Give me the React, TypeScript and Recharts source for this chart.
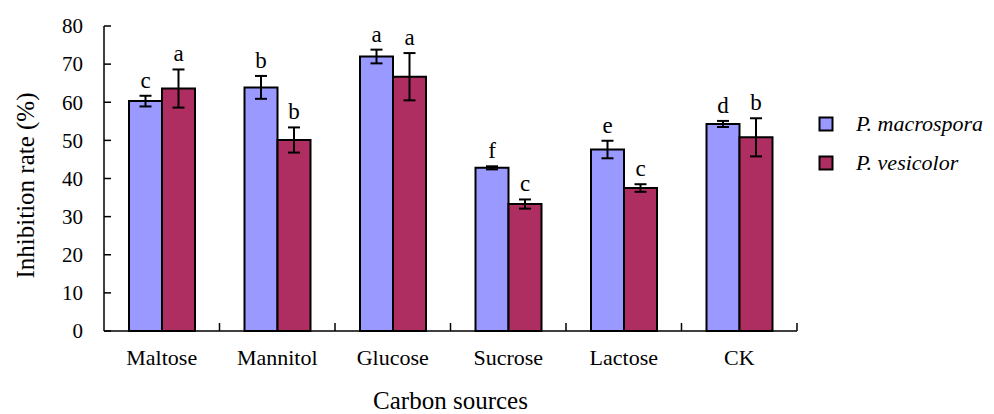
import { BarChart, Bar, XAxis, YAxis, ErrorBar, LabelList } from 'recharts';

// Inhibition rate by carbon source, two Penicillium-like strains
const categories = ['Maltose', 'Mannitol', 'Glucose', 'Sucrose', 'Lactose', 'CK'];
const macrospora = [60.3, 63.9, 72.0, 42.8, 47.6, 54.3];
const macrosporaErr = [1.4, 3.0, 1.8, 0.4, 2.3, 0.8];
const macrosporaSig = ['c', 'b', 'a', 'f', 'e', 'd'];
const vesicolor = [63.6, 50.1, 66.7, 33.3, 37.5, 50.8];
const vesicolorErr = [5.0, 3.3, 6.2, 1.2, 1.0, 5.0];
const vesicolorSig = ['a', 'b', 'a', 'c', 'c', 'b'];
const yTicks = [0, 10, 20, 30, 40, 50, 60, 70, 80];

const data = categories.map((name, i) => ({
  name,
  macrospora: macrospora[i],
  macrosporaErr: macrosporaErr[i],
  vesicolor: vesicolor[i],
  vesicolorErr: vesicolorErr[i],
}));

const FONT = 'Liberation Serif, DejaVu Serif, serif';
const BLUE = '#9999ff';
const RED = '#ae2e62';

// letter sits above the error bar cap
const sigLabel = (letters: string[], errs: number[]) => (props: any) => {
  const { x, y, width, height, value, index } = props;
  const pxPerUnit = value ? height / value : 0;
  const top = y - errs[index] * pxPerUnit;
  return (
    <text x={x + width / 2} y={top - 8} textAnchor="middle" fontFamily={FONT} fontSize={23} fill="#000">
      {letters[index]}
    </text>
  );
};

const YTick = (props: any) => {
  const { x, y, payload } = props;
  return (
    <g>
      <line x1={x} x2={x + 7} y1={y} y2={y} stroke="#000" strokeWidth={1.5} />
      <text x={x - 21} y={y} dy="0.35em" textAnchor="end" fontFamily={FONT} fontSize={21} fill="#000">
        {payload.value}
      </text>
    </g>
  );
};

const XTick = (props: any) => {
  const { x, y, payload } = props;
  const half = payload.offset || 57.75;
  return (
    <g>
      <line x1={x + half} x2={x + half} y1={y} y2={y - 8} stroke="#000" strokeWidth={1.5} />
      <text x={x} y={y + 34} textAnchor="middle" fontFamily={FONT} fontSize={22} fill="#000">
        {payload.value}
      </text>
    </g>
  );
};

const legendItems = [
  { label: 'P. macrospora', color: BLUE },
  { label: 'P. vesicolor', color: RED },
];

const LegendBox = () => (
  <div
    style={{
      position: 'absolute',
      left: 818,
      top: 104,
      fontFamily: FONT,
      fontSize: 22,
      fontStyle: 'italic',
      color: '#000',
    }}
  >
    {legendItems.map((item) => (
      <div key={item.label} style={{ display: 'flex', alignItems: 'center', height: 39 }}>
        <svg width={16} height={16} style={{ marginRight: 22 }}>
          <rect x={1.5} y={1.5} width={13} height={13} fill={item.color} stroke="#000" strokeWidth={2} />
        </svg>
        <span>{item.label}</span>
      </div>
    ))}
  </div>
);

const YTitle = (props: any) => {
  const { viewBox } = props;
  const cx = 34;
  const cy = viewBox.y + viewBox.height / 2 + 7;
  return (
    <text
      x={cx}
      y={cy}
      transform={`rotate(-90, ${cx}, ${cy})`}
      textAnchor="middle"
      fontFamily={FONT}
      fontSize={25}
      fill="#000"
    >
      Inhibition rate (%)
    </text>
  );
};

export default function App() {
  return (
    <div style={{ position: 'fixed', left: 0, top: 0, width: 994, height: 414, background: '#fff' }}>
      <BarChart
        width={994}
        height={414}
        data={data}
        margin={{ top: 26, right: 197, left: 0, bottom: 0 }}
        barGap={0}
      >
        <XAxis
          dataKey="name"
          height={83}
          axisLine={{ stroke: '#000', strokeWidth: 1.5 }}
          tickLine={false}
          tickSize={0}
          tickMargin={0}
          tick={<XTick />}
          interval={0}
          label={{
            value: 'Carbon sources',
            position: 'insideBottom',
            offset: 5,
            fontFamily: FONT,
            fontSize: 25,
            fill: '#000',
          }}
        />
        <YAxis
          width={104}
          domain={[0, 80]}
          ticks={yTicks}
          interval={0}
          axisLine={{ stroke: '#000', strokeWidth: 1.5 }}
          tickLine={false}
          tickSize={0}
          tickMargin={0}
          tick={<YTick />}
          label={<YTitle />}
        />
        <Bar dataKey="macrospora" fill={BLUE} stroke="#000" strokeWidth={2} barSize={33} isAnimationActive={false}>
          <ErrorBar dataKey="macrosporaErr" width={6} stroke="#000" strokeWidth={2} isAnimationActive={false} />
          <LabelList dataKey="macrospora" content={sigLabel(macrosporaSig, macrosporaErr)} />
        </Bar>
        <Bar dataKey="vesicolor" fill={RED} stroke="#000" strokeWidth={2} barSize={33} isAnimationActive={false}>
          <ErrorBar dataKey="vesicolorErr" width={6} stroke="#000" strokeWidth={2} isAnimationActive={false} />
          <LabelList dataKey="vesicolor" content={sigLabel(vesicolorSig, vesicolorErr)} />
        </Bar>
      </BarChart>
      <LegendBox />
    </div>
  );
}
